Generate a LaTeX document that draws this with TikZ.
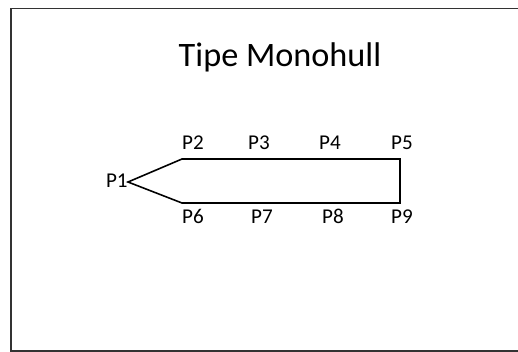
\documentclass[tikz,border=0pt]{standalone}
\usepackage{fontspec}
\setmainfont{Carlito}
\usepackage{tikz}
\usetikzlibrary{positioning}

\tikzset{
    hull/.style   = {draw=black, line width=0.9pt, line join=miter},
    ptlabel/.style= {inner sep=0pt, text height=1.3ex, text depth=0pt,
                     font=\fontsize{12}{13}\selectfont},
}

\begin{document}
\begin{tikzpicture}[x=0.02cm, y=-0.02cm]
                    \useasboundingbox (0,0) rectangle (518,352);
                    \fill [white] (0,0) rectangle (518,352);
                    \draw [line width=1pt, black!80] (518,8.5) -- (11,8.5) -- (11,351) -- (518,351);

                    \node (title) at (280,57) {\fontsize{19.5}{21}\selectfont Tipe Monohull};

                    % hull outline
                    \coordinate (bow)  at (128,182);
                    \coordinate (tl)   at (182,159);
                    \coordinate (tr)   at (400,159);
                    \coordinate (br)   at (400,203);
                    \coordinate (bl)   at (182,203);
                    \draw [hull] (bow) -- (tl) -- (tr) -- (br) -- (bl) -- cycle;

                    % point labels
                    \node [ptlabel, left=0pt of bow] (p1) {P1};
                    \node [ptlabel] (p2) at (193,144) {P2};
                    \node [ptlabel] (p3) at (259,144) {P3};
                    \node [ptlabel] (p4) at (330,144) {P4};
                    \node [ptlabel] (p5) at (402,144) {P5};
                    \node [ptlabel] (p6) at (193,218) {P6};
                    \node [ptlabel] (p7) at (262,218) {P7};
                    \node [ptlabel] (p8) at (333,218) {P8};
                    \node [ptlabel] (p9) at (402,218) {P9};
\end{tikzpicture}
\end{document}
